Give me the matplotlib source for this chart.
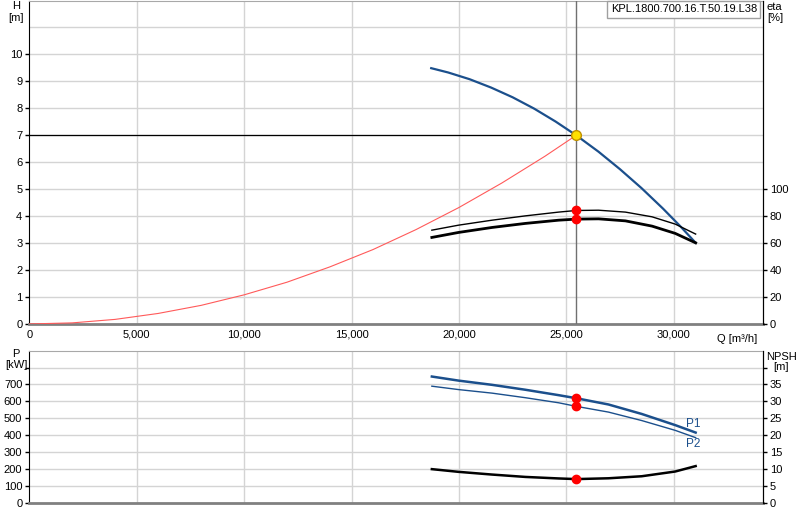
import numpy as np
import matplotlib
matplotlib.use('Agg')
import matplotlib.pyplot as plt
from matplotlib.ticker import FuncFormatter

plt.rcParams['font.family'] = ['Liberation Sans', 'DejaVu Sans']
plt.rcParams['font.size'] = 8

# Pumpenkennlinie H(Q)
q_h = [18710, 19500, 20500, 21500, 22500, 23500, 24500, 25460,
       26500, 27500, 28500, 29500, 30300, 31020]
h_pump = [9.49, 9.33, 9.08, 8.77, 8.41, 7.99, 7.51, 7.0,
          6.39, 5.74, 5.04, 4.28, 3.63, 3.01]

# Anlagenkennlinie
q_sys = [0, 2000, 4000, 6000, 8000, 10000, 12000, 14000, 16000,
         18000, 20000, 22000, 24000, 25460]
h_sys = [0, 0.04, 0.17, 0.39, 0.69, 1.08, 1.55, 2.12, 2.76,
         3.50, 4.32, 5.23, 6.22, 7.0]

# Wirkungsgrade
q_eta = [18740, 19980, 21540, 23090, 24640, 25460, 26500, 27750, 28990, 30070, 31020]
eta_1 = [69.6, 73.3, 77.0, 80.2, 83.0, 84.2, 84.4, 83.0, 79.5, 74.1, 66.7]
eta_2 = [64.2, 67.9, 71.6, 74.6, 77.0, 77.8, 78.0, 76.5, 72.6, 67.2, 60.2]

# Leistung und NPSH
q_p = [18740, 19980, 21540, 23090, 24640, 25460, 26960, 28510, 30070, 31020]
p1 = [747, 723, 698, 669, 637, 619, 582, 526, 460, 416]
p2 = [690, 670, 649, 622, 592, 571, 537, 487, 429, 386]
npsh = [10.0, 9.2, 8.4, 7.7, 7.25, 7.06, 7.3, 7.9, 9.3, 10.9]

# Betriebspunkt
q_bp = 25460
h_bp = 7.0
eta1_bp = 84.2
eta2_bp = 77.8
p1_bp = 619
p2_bp = 571
npsh_bp = 7.06

blue = '#1b4f8c'
grid_c = '#d4d4d4'
x_max = 34150

fig = plt.figure(figsize=(8, 5.2), dpi=100)
ax_h = fig.add_axes([0.0366, 0.377, 0.917, 0.622])
ax_p = fig.add_axes([0.0366, 0.0327, 0.917, 0.293])
ax_eta = ax_h.twinx()
ax_npsh = ax_p.twinx()

for ax in (ax_h, ax_p):
    ax.set_xlim(0, x_max)
    ax.set_xticks(range(0, 30001, 5000))
    for xv in range(5000, 30001, 5000):
        ax.axvline(xv, color=grid_c, lw=1, zorder=0)
    ax.spines['bottom'].set_color('#808080')
    ax.spines['bottom'].set_linewidth(2)
    ax.spines['top'].set_color('#a8a8a8')
    ax.spines['left'].set_color('black')
    ax.tick_params(axis='x', length=0, pad=4)
    ax.tick_params(axis='y', length=3, width=1, pad=2)

for ax in (ax_eta, ax_npsh):
    ax.spines['right'].set_color('black')
    ax.spines['top'].set_visible(False)
    ax.spines['left'].set_visible(False)
    ax.spines['bottom'].set_visible(False)
    ax.tick_params(axis='y', length=3, width=1, pad=2)

# oberes Diagramm
ax_h.set_ylim(0, 12)
ax_h.set_yticks(range(0, 11))
for yv in range(1, 12):
    ax_h.axhline(yv, color=grid_c, lw=1, zorder=0)
ax_h.xaxis.set_major_formatter(FuncFormatter(lambda v, p: f'{int(v):,}'))
ax_eta.set_ylim(0, 240)
ax_eta.set_yticks(range(0, 101, 20))

ax_h.plot(q_sys, h_sys, color='#ff5a5a', lw=0.8, zorder=3)
ax_h.plot(q_h, h_pump, color=blue, lw=1.6, zorder=4)
ax_h.plot([0, q_bp], [h_bp, h_bp], color='black', lw=0.9, zorder=3)
ax_h.plot([q_bp, q_bp], [0, 12], color='#707070', lw=1, zorder=3)
ax_eta.plot(q_eta, eta_1, color='black', lw=1.0, zorder=4)
ax_eta.plot(q_eta, eta_2, color='black', lw=2.0, zorder=4)
ax_eta.plot([q_bp, q_bp], [eta1_bp, eta2_bp], 'o', color='#ff0000', ms=6, zorder=5)
ax_eta.plot(q_bp, h_bp * 20, 'o', color='#ffe000', mec='#c09000', mew=1, ms=7, zorder=6)

ax_h.text(-0.018, 0.983, 'H', transform=ax_h.transAxes, ha='center', va='center')
ax_h.text(-0.018, 0.947, '[m]', transform=ax_h.transAxes, ha='center', va='center')
ax_eta.text(1.015, 0.981, 'eta', transform=ax_h.transAxes, ha='center', va='center')
ax_eta.text(1.017, 0.947, '[%]', transform=ax_h.transAxes, ha='center', va='center')
ax_h.text(0.992, -0.032, 'Q [m³/h]', transform=ax_h.transAxes, ha='right', va='top')
ax_eta.text(0.992, 0.988, 'KPL.1800.700.16.T.50.19.L38', transform=ax_h.transAxes,
            ha='right', va='top', zorder=10,
            bbox=dict(boxstyle='square,pad=0.3', fc='white', ec='#a0a0a0', lw=1))

# unteres Diagramm
ax_p.set_ylim(0, 900)
ax_p.set_yticks(range(0, 801, 100))
ax_p.set_yticklabels([str(v) for v in range(0, 701, 100)] + [''])
for yv in range(100, 900, 100):
    ax_p.axhline(yv, color=grid_c, lw=1, zorder=0)
ax_p.set_xticklabels([])
ax_npsh.set_ylim(0, 45)
ax_npsh.set_yticks(range(0, 41, 5))
ax_npsh.set_yticklabels([str(v) for v in range(0, 36, 5)] + [''])

ax_p.plot(q_p, p1, color=blue, lw=1.8, zorder=4)
ax_p.plot(q_p, p2, color=blue, lw=1.0, zorder=4)
ax_p.plot([q_bp, q_bp], [p1_bp, p2_bp], 'o', color='#ff0000', ms=6, zorder=5)
ax_npsh.plot(q_p, npsh, color='black', lw=1.8, zorder=4)
ax_npsh.plot(q_bp, npsh_bp, 'o', color='#ff0000', ms=6, zorder=5)
ax_p.text(q_p[-1] - 100, p1[-1] + 50, 'P1', color=blue, ha='center', va='center', fontsize=8.5)
ax_p.text(q_p[-1] - 100, p2[-1] - 38, 'P2', color=blue, ha='center', va='center', fontsize=8.5)

ax_p.text(-0.018, 0.975, 'P', transform=ax_p.transAxes, ha='center', va='center')
ax_p.text(-0.018, 0.905, '[kW]', transform=ax_p.transAxes, ha='center', va='center')
ax_npsh.text(1.025, 0.96, 'NPSH', transform=ax_p.transAxes, ha='center', va='center')
ax_npsh.text(1.025, 0.89, '[m]', transform=ax_p.transAxes, ha='center', va='center')

fig.savefig('out.png', dpi=100)
